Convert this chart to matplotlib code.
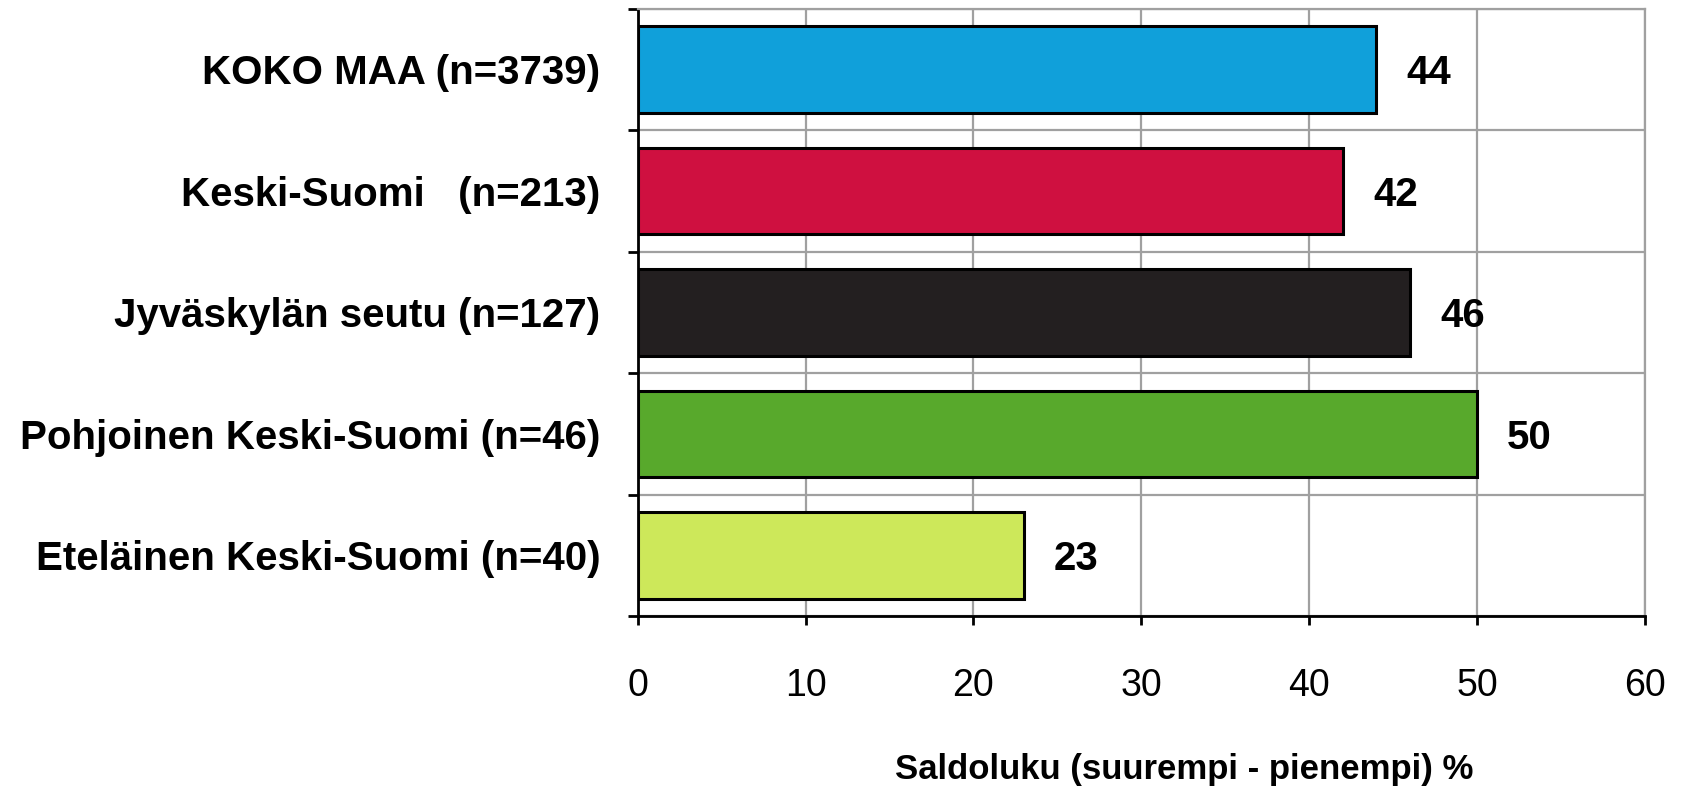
import matplotlib
matplotlib.use("Agg")
import matplotlib.pyplot as plt
import numpy as np

categories = ["KOKO MAA (n=3739)", "Keski-Suomi   (n=213)", "Jyväskylän seutu (n=127)",
              "Pohjoinen Keski-Suomi (n=46)", "Eteläinen Keski-Suomi (n=40)"]
values = [44, 42, 46, 50, 23]
colors = ["#10A0DA", "#CF1040", "#231F20", "#58A92C", "#CDE85A"]
xticks = [0, 10, 20, 30, 40, 50, 60]
xlabel = "Saldoluku (suurempi - pienempi) %"

plt.rcParams['font.family'] = ['Liberation Sans', 'DejaVu Sans']

fig = plt.figure(figsize=(16.87, 7.87), dpi=100)
ax = fig.add_axes([0.378, 0.217, 0.597, 0.772])

y = np.arange(len(categories))
ax.barh(y, values, height=0.71, color=colors, edgecolor="black", linewidth=2.2, zorder=3)

for yi, v in zip(y, values):
    ax.text(v + 1.8, yi + 0.03, str(v), va="center", ha="left", fontsize=29, fontweight="bold", zorder=4)

ax.set_xlim(0, 60)
ax.set_ylim(len(categories) - 0.5, -0.5)
ax.set_xticks(xticks)
ax.set_xticklabels([str(t) for t in xticks], fontsize=27)
ax.tick_params(axis="x", length=6.5, width=2, direction="out", pad=31)

ax.set_yticks(y)
ax.set_yticklabels(categories, fontsize=29, fontweight="bold")
ax.tick_params(axis="y", which="major", length=0, pad=27)
ax.set_yticks(np.arange(-0.5, len(categories)), minor=True)
ax.tick_params(axis="y", which="minor", length=7, width=2, direction="out")

ax.grid(axis="x", color="#A0A0A0", linewidth=1.6, zorder=0)
ax.grid(axis="y", which="minor", color="#A0A0A0", linewidth=1.6, zorder=0)
ax.set_axisbelow(True)

for s in ["top", "right"]:
    ax.spines[s].set_color("#A0A0A0")
    ax.spines[s].set_linewidth(1.6)
for s in ["left", "bottom"]:
    ax.spines[s].set_color("black")
    ax.spines[s].set_linewidth(2)

fig.text(0.702, 0.022, xlabel, ha="center", va="center", fontsize=25, fontweight="bold")

fig.savefig("out.png", dpi=100)
